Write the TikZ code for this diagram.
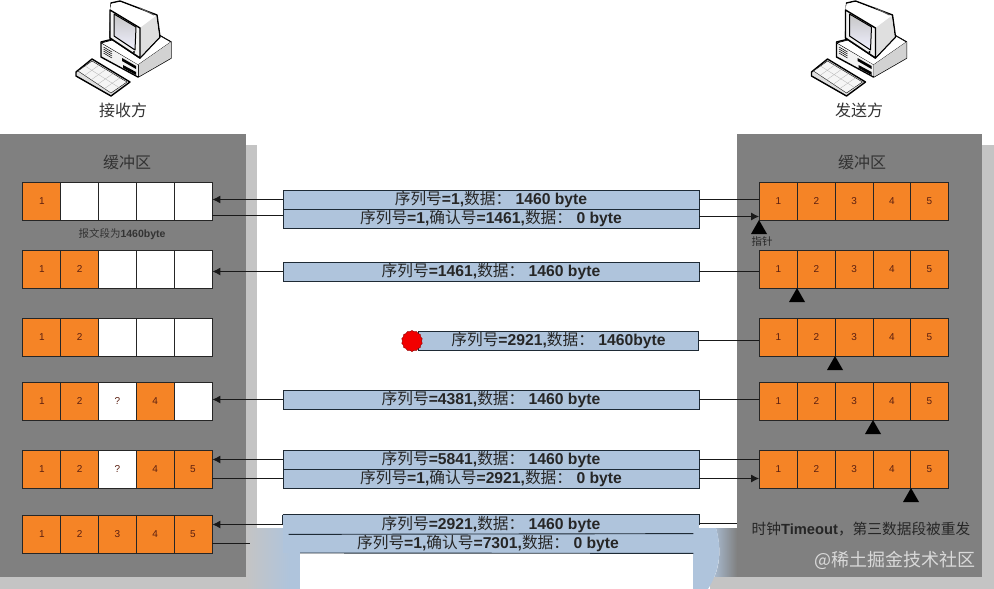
\documentclass[tikz,border=0pt]{standalone}
\usepackage{fontspec}
\setmainfont{Liberation Sans}
\newfontfamily\cjk{Noto Sans CJK SC}
\usetikzlibrary{shapes.symbols,arrows.meta}
\definecolor{panelgray}{HTML}{808080}
\definecolor{shadowgray}{HTML}{C4C4C4}
\definecolor{cellorange}{HTML}{F58426}
\definecolor{barblue}{HTML}{AFC4DC}
\definecolor{darkline}{HTML}{1E2A35}
\definecolor{digit}{HTML}{5A1E10}
\newcommand{\zh}[1]{{\cjk\mdseries #1}}
\newcommand{\fs}[1]{\fontsize{#1}{#1}\selectfont}
\tikzset{
  panel/.style={fill=panelgray,draw=none},
  orangecell/.style={rectangle,draw=black!85,line width=0.8pt,fill=cellorange,minimum width=38pt,minimum height=38pt,inner sep=0pt,text=digit,font=\fs{10}},
  bar/.style={rectangle,draw=darkline,line width=0.8pt,fill=barblue,minimum height=19pt,inner sep=0pt,font=\fs{15.7}\bfseries,text=black!85},
  link/.style={draw=black!90,line width=1pt},
  arrowlink/.style={link,-{Latex[length=8pt,width=8pt]}},
  pointer/.style={fill=black},
  caption/.style={font=\cjk\fs{16},text=black!80,inner sep=0pt}
}
% left buffer row: row number, y, list of fill/text
\newcommand{\lrow}[3]{%
  \foreach \fc/\tx [count=\c] in {#3}{
    \node[orangecell,fill=\fc] (L#1\c) at ({4+37.8*\c},#2) {\tx};
  }}
\newcommand{\pcicon}[1]{%
\begin{scope}[shift={(#1,0)},line join=round]
  % keyboard
  \draw[line width=1.4pt,fill=gray!25] (76,72)--(92,59)--(130,82)--(111,96)--(76,76)--cycle;
  \draw[line width=0.4pt,fill=gray!8] (78,71)--(92,61)--(127,82)--(111,93)--cycle;
  \foreach \t in {0.2,0.4,0.6,0.8}{\draw[gray!60,line width=0.3pt] ({78+\t*33},{71+\t*22})--({92+\t*35},{61+\t*21});}
  \draw[gray!60,line width=0.3pt] (85,66)--(119,87.5);
  % base
  \draw[line width=1.4pt,fill=gray!20] (101,42)--(101,57)--(138,77)--(171,58)--(171,42)--(150,30)--cycle;
  \draw[line width=0.7pt,fill=white] (101,43)--(138,65)--(171,42)--(150,30)--cycle;
  \fill[gray!35] (138,65)--(171,42)--(171,58)--(138,77)--cycle;
  \draw[line width=0.7pt] (138,65)--(138,77);
  \fill[gray!10] (102,44)--(138,65)--(138,76)--(102,56)--cycle;
  \foreach \d in {0,2,4,6}{\draw[line width=0.5pt] (103.5,{47+\d})--(112,{52+\d});}
  \fill[black] (122,58)--(136,66)--(136,69)--(122,61)--cycle (123,65)--(136,72)--(136,75)--(123,68)--cycle;
  % monitor
  \draw[line width=1.4pt,fill=gray!15] (111,3)--(120,1)--(157,15)--(160,37)--(140,58)--(110,38)--cycle;
  \fill[white] (111,4)--(120,2)--(156,16)--(140,28)--(110,10)--cycle;
  \fill[gray!25] (140,28)--(156,16)--(159,37)--(140,57)--cycle;
  \draw[line width=1pt,gray!70!black] (140,8)--(154,15);
  \draw[line width=1.4pt,fill=gray!10] (110,10)--(140,28)--(140,58)--(110,38)--cycle;
  \draw[line width=1pt,top color=gray!45,bottom color=blue!6] (114,14)--(136,27)--(135,50)--(114,36)--cycle;
  \fill[black] (134,52) circle (1.2pt);
\end{scope}}
\begin{document}
\begin{tikzpicture}[x=1pt,y=-1pt]
\useasboundingbox (0,0) rectangle (994,589);
\fill[white] (0,0) rectangle (994,589);
% shadows and panels
\fill[shadowgray] (246,145) rectangle (257,589);
\fill[shadowgray] (0,577) rectangle (257,589);
\fill[shadowgray] (748,145) rectangle (994,589);
\fill[panel] (0,134) rectangle (246,577);
% damaged lower area
\fill[barblue] (270,528) rectangle (300,589);
\shade[left color=shadowgray,right color=barblue] (246,528) rectangle (290,589);
\fill[panel] (0,528) rectangle (246,577);
\fill[panel] (737,134) rectangle (982,577);
\shade[left color=barblue,right color=panelgray] (716,528) .. controls (722,550) and (720,570) .. (710,585) -- (737,585) -- (737,528) -- cycle;
\fill[shadowgray] (710,577) rectangle (994,589);
\fill[barblue] (693,528) -- (716,528) .. controls (722,550) and (720,570) .. (708,589) -- (693,589) -- cycle;
\fill[white] (300,553) rectangle (693,589);

% computers
\pcicon{0}
\pcicon{735.5}
\node[caption] (recv) at (123,110) {接收方};
\node[caption] (send) at (859,110) {发送方};
\node[caption] (bufL) at (127,162) {缓冲区};
\node[caption] (bufR) at (862,162) {缓冲区};

% left buffers
\lrow{1}{201}{cellorange/1,white/,white/,white/,white/}
\lrow{2}{269}{cellorange/1,cellorange/2,white/,white/,white/}
\lrow{3}{337}{cellorange/1,cellorange/2,white/,white/,white/}
\lrow{4}{401}{cellorange/1,cellorange/2,white/?,cellorange/4,white/}
\lrow{5}{469}{cellorange/1,cellorange/2,white/?,cellorange/4,cellorange/5}
\lrow{6}{534}{cellorange/1,cellorange/2,cellorange/3,cellorange/4,cellorange/5}

% right buffers
\foreach \r/\y in {1/201,2/269,3/337,4/401,5/469}{
  \foreach \c/\x in {1/778.5,2/816.3,3/854.2,4/892,5/929.5}{
    \node[orangecell] (R\r\c) at (\x,\y) {\c};
  }
}

\node[inner sep=0pt,font=\fs{10.5}\bfseries,text=black!80] (seglabel) at (122,234) {\zh{报文段为}1460byte};
\node[inner sep=0pt,font=\cjk\fs{10.5},text=black!85] (ptrlabel) at (762,242) {指针};
\node[inner sep=0pt,font=\fs{14.7}\bfseries,text=black!85] (timeout) at (861,529) {\zh{时钟}Timeout\zh{，第三数据段被重发}};

% bars
\node[bar,minimum width=416pt] (B1) at (491,199.5) {\zh{序列号}=1,\zh{数据：} 1460 byte};
\node[bar,minimum width=416pt] (B2) at (491,218.5) {\zh{序列号}=1,\zh{确认号}=1461,\zh{数据：} 0 byte};
\node[bar,minimum width=416pt] (B3) at (491,271.5) {\zh{序列号}=1461,\zh{数据：} 1460 byte};
\node[bar,minimum width=280pt] (B4) at (558.5,340.5) {\zh{序列号}=2921,\zh{数据：} 1460byte};
\node[bar,minimum width=416pt] (B5) at (491,399.5) {\zh{序列号}=4381,\zh{数据：} 1460 byte};
\node[bar,minimum width=416pt] (B6) at (491,459.5) {\zh{序列号}=5841,\zh{数据：} 1460 byte};
\node[bar,minimum width=416pt] (B7) at (491,478.5) {\zh{序列号}=1,\zh{确认号}=2921,\zh{数据：} 0 byte};
\node[bar,minimum width=416pt,draw=none] (B8) at (491,524.5) {\zh{序列号}=2921,\zh{数据：} 1460 byte};
\node[bar,minimum width=410pt,draw=none] (B9) at (488,543.5) {\zh{序列号}=1,\zh{确认号}=7301,\zh{数据：} 0 byte};
\draw[darkline,line width=0.8pt] (B8.south west) ++(6,0) coordinate (b8a) (B8.north west) -- (B8.north east) -- ++(0,10);
\draw[darkline,line width=0.8pt] (B8.north west) -- ++(0,10);
\draw[darkline,line width=0.9pt] (b8a) -- (B9.north east);
\draw[darkline,line width=0.9pt] (300,553) -- (B9.south east);
\node[cloud,cloud puffs=14,cloud puff arc=120,aspect=1,draw=red!60!black,fill=red!95!black,minimum size=21pt,inner sep=0pt,line width=0.5pt] (lost) at (412,341) {};

% connectors
\draw[arrowlink] (B1.west) -- (L15.east |- B1.west);
\draw[link] (R11.west |- B1.east) -- (B1.east);
\draw[link] ([yshift=3pt]L15.east |- B2.west) -- ([yshift=3pt]B2.west);
\draw[arrowlink] ([yshift=2pt]B2.east) -- ([yshift=2pt]R11.west |- B2.east);
\draw[arrowlink] (B3.west) -- (L25.east |- B3.west);
\draw[link] (R21.west |- B3.east) -- (B3.east);
\draw[link] (R31.west |- B4.east) -- (B4.east);
\draw[arrowlink] (B5.west) -- (L45.east |- B5.west);
\draw[link] (R41.west |- B5.east) -- (B5.east);
\draw[arrowlink] (B6.west) -- (L55.east |- B6.west);
\draw[link] (R51.west |- B6.east) -- (B6.east);
\draw[link] (L55.east |- B7.west) -- (B7.west);
\draw[arrowlink] (B7.east) -- (R51.west |- B7.east);
\draw[arrowlink] (B8.west) -- (L65.east |- B8.west);
\coordinate (freeR) at (737,523);
\draw[link] (B8.east |- freeR) -- (freeR);
\coordinate (freeL) at (250,543);
\draw[link] (L65.east |- freeL) -- (freeL);

% pointers
\foreach \cx/\yy in {759/220,797/288,835/356,873/420,911/488}{
  \fill[pointer] (\cx,\yy) -- (\cx+8,\yy+14) -- (\cx-8,\yy+14) -- cycle;
}

% watermark
\node[inner sep=0pt,font=\cjk\fs{18},text=white!70!gray] (wm) at (895,560) {@稀土掘金技术社区};
\end{tikzpicture}
\end{document}
